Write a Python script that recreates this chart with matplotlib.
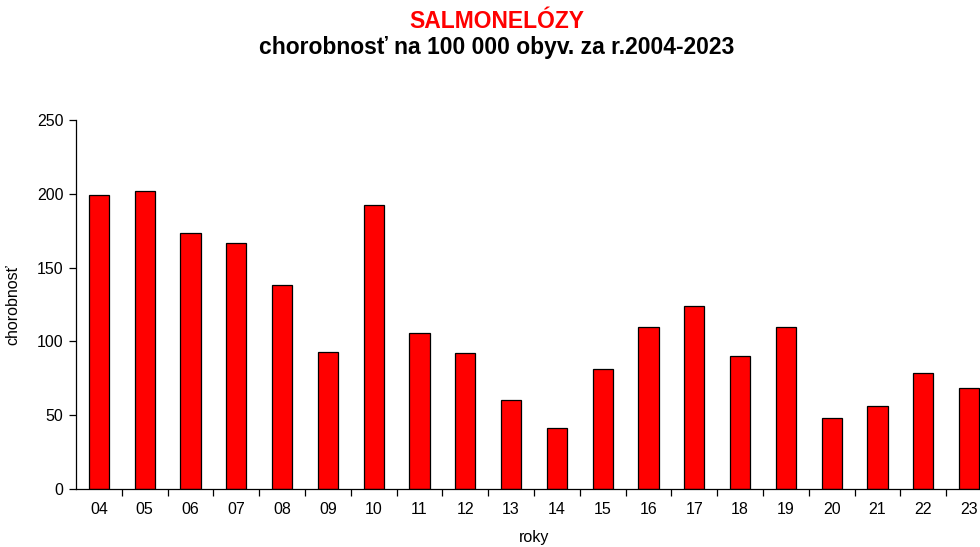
import numpy as np
import matplotlib
matplotlib.use('Agg')
from matplotlib import pyplot as plt

# incidence of salmonellosis per 100 000 inhabitants, years 2004-2023
roky = ['04', '05', '06', '07', '08', '09', '10', '11', '12', '13',
        '14', '15', '16', '17', '18', '19', '20', '21', '22', '23']
chorobnost = [199.5, 202, 173.5, 166.8, 138.5, 92.8, 192.5, 105.7, 92, 60.5,
              41.3, 81.3, 110, 124, 90.2, 110, 48.2, 56.2, 78.8, 68.5]
y_ticks = [0, 50, 100, 150, 200, 250]

plt.rcParams['font.family'] = ['Liberation Sans', 'DejaVu Sans']

fig = plt.figure(figsize=(9.8, 5.47), dpi=100)
ax = fig.add_axes([76 / 980, 58 / 547, 916 / 980, 369 / 547])

x = np.arange(len(roky))
ax.bar(x, chorobnost, width=0.44, color='#ff0000', edgecolor='black', linewidth=0.9)

ax.set_xlim(-0.5, len(roky) - 0.5)
ax.set_ylim(0, 250)
ax.set_yticks(y_ticks)
ax.set_yticklabels([str(v) for v in y_ticks], fontsize=11.5)

# category labels centred, tick marks between categories
ax.set_xticks(x)
ax.set_xticklabels(roky, fontsize=11.5)
ax.tick_params(axis='x', which='major', length=0, pad=9)
ax.set_xticks(np.arange(len(roky)) + 0.5, minor=True)
ax.tick_params(axis='x', which='minor', length=5, direction='out', width=0.9)
ax.tick_params(axis='y', length=5, direction='out', width=0.9, pad=4)

for s in ['top', 'right']:
    ax.spines[s].set_visible(False)
for s in ['left', 'bottom']:
    ax.spines[s].set_linewidth(0.9)

ax.set_ylabel('chorobnosť', fontsize=11.5, labelpad=12)
ax.set_xlabel('roky', fontsize=11.5, labelpad=10)

fig.text(497 / 980, 1 - 22 / 547, 'SALMONELÓZY', color='#ff0000', fontsize=16.5,
         fontweight='bold', ha='center', va='center')
fig.text(497 / 980, 1 - 48 / 547, 'chorobnosť na 100 000 obyv. za r.2004-2023', color='black',
         fontsize=16.5, fontweight='bold', ha='center', va='center')

fig.savefig('out.png', dpi=100)
